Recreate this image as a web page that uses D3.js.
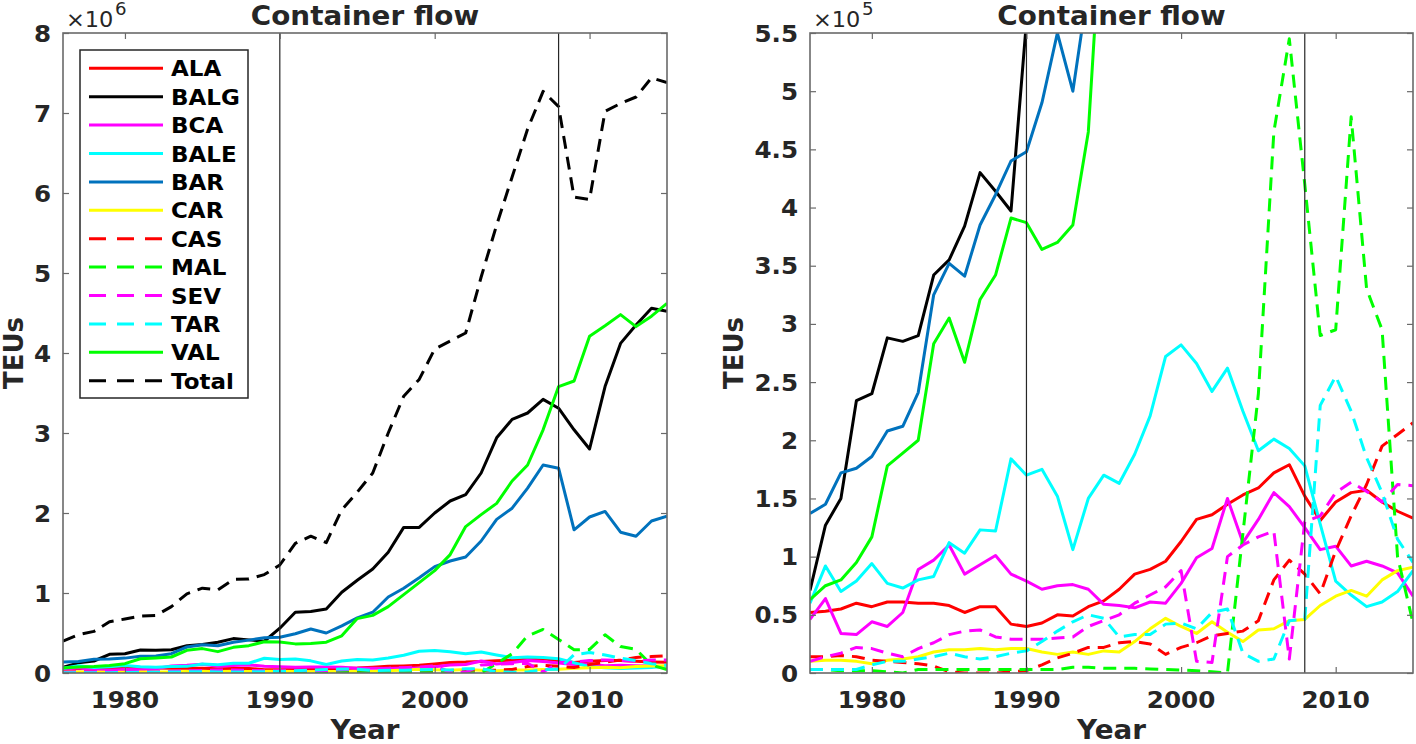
<!DOCTYPE html>
<html><head><meta charset="utf-8">
<script src="https://cdn.jsdelivr.net/npm/d3@7"></script>
<style>body{margin:0;background:#fff}svg{display:block}</style>
</head><body>
<svg id="chart" width="1416" height="744"></svg>
<script>
// Values in thousands of TEUs, years 1976..2015
const years = d3.range(1976, 2016);
const ALA  = [52,53,55,60,57,61,61,60,60,58,52,57,57,42,40,43,50,49,57,62,72,85,89,96,113,132,136,145,153,159,172,179,152,131,147,155,157,147,139,133];
const BALG = [71,127,150,234,240,288,285,290,342,355,384,430,414,397,560,760,770,800,1010,1160,1300,1510,1820,1820,2000,2150,2230,2500,2940,3170,3250,3420,3310,3040,2800,3580,4120,4350,4560,4520];
const BCA  = [46,64,34,33,44,40,52,89,97,110,85,93,101,85,79,72,75,76,72,59,58,56,61,60,77,99,107,150,112,132,155,143,125,106,109,92,96,92,86,66];
const BALE = [60,92,70,79,94,77,73,80,83,112,103,123,122,184,170,175,152,106,150,170,163,188,221,272,282,266,242,262,225,191,201,193,178,128,79,67,57,61,70,88];
const BAR  = [137,145,172,176,186,208,212,241,325,352,341,385,411,440,448,490,550,500,590,690,760,950,1060,1190,1330,1400,1450,1650,1920,2060,2310,2600,2560,1790,1950,2020,1760,1710,1900,1960];
const CAR  = [10,11,11,10,8,11,12,14,18,20,20,21,20,21,21,18,16,18,16,19,18,27,38,47,40,34,44,35,27,37,38,45,46,58,66,71,66,80,88,91];
const CAS  = [14,14,15,14,11,10,9,8,6,1,0,0,0,1,2,7,13,17,22,22,26,27,25,16,22,26,32,34,36,45,80,97,85,68,105,135,162,195,205,215];
const MAL  = [3,3,2,2,2,1,0,3,3,3,3,3,3,3,3,3,3,5,5,4,4,4,3.5,3,2.5,2,1,0,120,240,465,545,420,290,295,478,330,295,100,43];
const SEV  = [10,14,17,22,21,17,14,21,26,33,36,37,31,29,29,29,30,31,40,45,50,60,67,74,88,10,9,100,110,117,122,12,130,135,155,164,156,147,162,161];
const TAR  = [3,3,3,3,7,10,10,12,14,17,14,12,14,17,19,27,36,44,50,47,31,33,33,42,43,38,52,55,17,10,12,45,46,230,255,225,185,155,115,95];
const VAL  = [63,75,80,95,117,178,189,200,283,305,267,321,342,391,387,364,370,385,465,680,720,830,980,1130,1280,1480,1830,1980,2120,2400,2600,3040,3580,3650,4210,4340,4480,4330,4460,4620];
const Total= [400,480,520,640,675,710,720,830,990,1060,1040,1170,1175,1230,1350,1620,1710,1630,2040,2260,2500,3000,3460,3670,4050,4150,4250,4950,5600,6200,6800,7270,7080,5950,5920,7020,7120,7200,7440,7380];

const seriesNames = ["ALA","BALG","BCA","BALE","BAR","CAR","CAS","MAL","SEV","TAR","VAL","Total"];
const seriesData  = [ALA,BALG,BCA,BALE,BAR,CAR,CAS,MAL,SEV,TAR,VAL,Total];
const seriesColor = ["#ff0000","#000000","#ff00ff","#00ffff","#0072bd","#ffff00","#ff0000","#00ff00","#ff00ff","#00ffff","#00ff00","#000000"];
const seriesDashed= [false,false,false,false,false,false,true,true,true,true,false,true];
const markYears = [1990, 2008];
const xTicks = [1980, 1990, 2000, 2010];
const leftYTicks = [0,1,2,3,4,5,6,7,8];          // ×10^6
const rightYTicks = [0,0.5,1,1.5,2,2.5,3,3.5,4,4.5,5,5.5]; // ×10^5

const svg = d3.select("#chart");
const FONT = "DejaVu Sans";
const SX = 1.07;
function txt(g, x, y, s, o) {
  o = o || {};
  return g.append("text")
    .attr("transform", `translate(${x},${y}) scale(${SX},1)`)
    .attr("text-anchor", o.anchor || "start")
    .attr("font-family", FONT)
    .attr("font-weight", o.weight || "bold")
    .attr("font-size", o.size || 23)
    .attr("fill", o.fill || "#262626")
    .text(s);
}

function panel(id, box, yMaxK, yTicks, unitK, expo, include, withLegend, ylabX) {
  const x = d3.scaleLinear().domain([1976, 2015]).range([box.x0, box.x1]);
  const y = d3.scaleLinear().domain([0, yMaxK]).range([box.y1, box.y0]);
  const g = svg.append("g");
  g.append("clipPath").attr("id", id).append("rect")
    .attr("x", box.x0).attr("y", box.y0).attr("width", box.x1 - box.x0).attr("height", box.y1 - box.y0);
  const plot = g.append("g").attr("clip-path", `url(#${id})`);
  const line = d3.line().x((d, i) => x(years[i])).y(d => y(d));
  seriesData.forEach((data, k) => {
    if (!include(k)) return;
    plot.append("path").datum(data)
      .attr("d", line).attr("fill", "none")
      .attr("stroke", seriesColor[k]).attr("stroke-width", 3)
      .attr("stroke-linejoin", "round")
      .attr("stroke-dasharray", seriesDashed[k] ? "13,8" : null);
  });
  markYears.forEach(yr => {
    g.append("line").attr("x1", x(yr)).attr("x2", x(yr)).attr("y1", box.y0).attr("y2", box.y1)
      .attr("stroke", "#262626").attr("stroke-width", 1.2);
  });
  g.append("rect").attr("x", box.x0).attr("y", box.y0).attr("width", box.x1 - box.x0).attr("height", box.y1 - box.y0)
    .attr("fill", "none").attr("stroke", "#6a6a6a").attr("stroke-width", 1.6);
  const tl = 6;
  const axB = d3.axisBottom(x).tickValues(xTicks).tickSize(-tl).tickFormat(d3.format("d"));
  const axT = d3.axisTop(x).tickValues(xTicks).tickSize(-tl).tickFormat("");
  const axL = d3.axisLeft(y).tickValues(yTicks.map(v => v * unitK)).tickSize(-tl).tickFormat("");
  const axR = d3.axisRight(y).tickValues(yTicks.map(v => v * unitK)).tickSize(-tl).tickFormat("");
  [[axB, `translate(0,${box.y1})`], [axT, `translate(0,${box.y0})`], [axL, `translate(${box.x0},0)`], [axR, `translate(${box.x1},0)`]]
    .forEach(([ax, tr]) => {
      const a = g.append("g").attr("transform", tr).call(ax);
      a.select(".domain").remove();
      a.selectAll(".tick line").attr("stroke", "#6a6a6a").attr("stroke-width", 1.2);
      a.selectAll(".tick text").remove();
    });
  xTicks.forEach(t => txt(g, x(t), box.y1 + 35, String(t), {anchor: "middle"}));
  yTicks.forEach(t => txt(g, box.x0 - 12, y(t * unitK) + 8.5, String(+t.toFixed(1)), {anchor: "end"}));
  txt(g, box.x0 + 3, box.y0 - 6, "×10", {weight: "normal", size: 21});
  txt(g, box.x0 + 52, box.y0 - 18, expo, {weight: "normal", size: 17});
  txt(g, (box.x0 + box.x1) / 2, 25, "Container flow", {anchor: "middle", size: 26});
  txt(g, (box.x0 + box.x1) / 2, 739, "Year", {anchor: "middle", size: 26});
  g.append("text").attr("transform", `translate(${ylabX},${(box.y0 + box.y1) / 2}) rotate(-90)`)
    .attr("text-anchor", "middle").attr("font-family", FONT).attr("font-weight", "bold")
    .attr("font-size", 26).attr("fill", "#262626").text("TEUs");

  if (withLegend) {
    const lg = g.append("g");
    lg.append("rect").attr("x", 80).attr("y", 50).attr("width", 168).attr("height", 348)
      .attr("fill", "#fff").attr("stroke", "#262626").attr("stroke-width", 1.5);
    seriesNames.forEach((nm, k) => {
      const yy = 68.3 + k * 28.4;
      lg.append("line").attr("x1", 89).attr("x2", 163).attr("y1", yy).attr("y2", yy)
        .attr("stroke", seriesColor[k]).attr("stroke-width", 3)
        .attr("stroke-dasharray", seriesDashed[k] ? "17,11" : null);
      txt(lg, 171, yy + 8, nm, {size: 21.5, fill: "#000"});
    });
  }
}

panel("clipL", {x0: 63, x1: 667, y0: 33, y1: 673}, 8000, leftYTicks, 1000, "6", k => true, true, 23);
panel("clipR", {x0: 810, x1: 1413, y0: 33, y1: 673}, 550, rightYTicks, 100, "5", k => k < 11, false, 743);
</script>
</body></html>
